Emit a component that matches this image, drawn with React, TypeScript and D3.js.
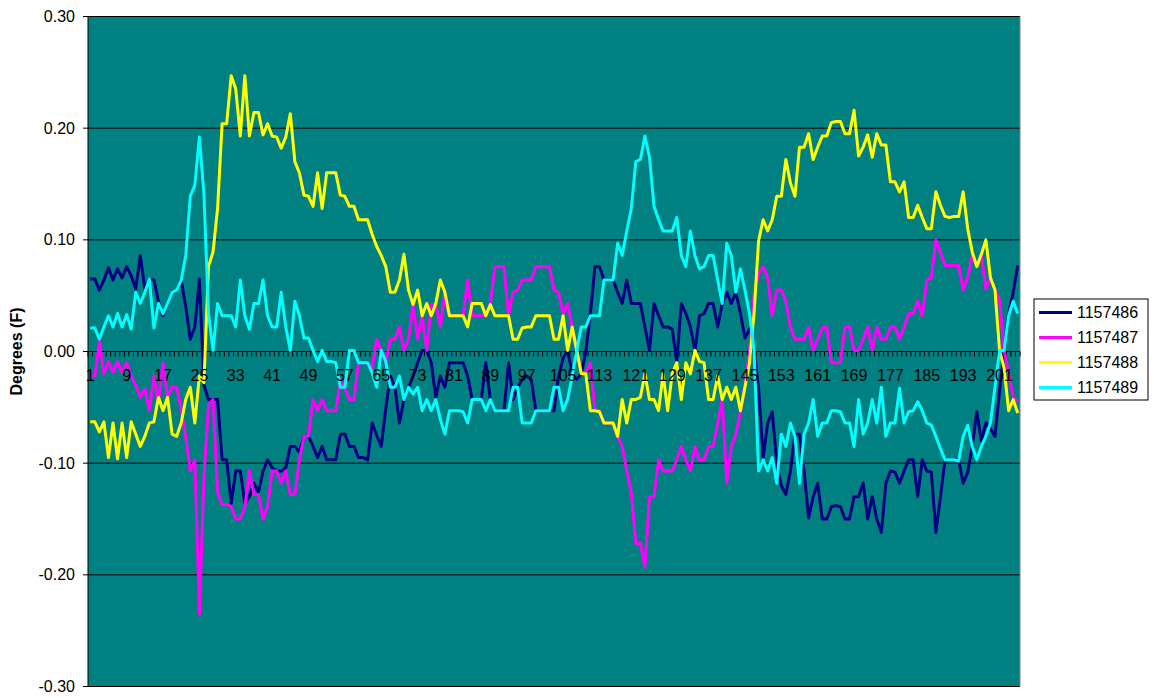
import React from "react";
import * as d3 from "d3";

const categories: number[] = d3.range(1, 206);
const seriesNames = ["1157486", "1157487", "1157488", "1157489"];
const seriesColors = ["#000080", "#FF00FF", "#FFFF00", "#00FFFF"];
const yTicks = [-0.3, -0.2, -0.1, 0, 0.1, 0.2, 0.3];
const xTickLabels: number[] = d3.range(1, 206, 8);

const s1157486 = [
  0.065, 0.065, 0.055, 0.064, 0.075, 0.064, 0.074, 0.066, 0.076, 0.068,
  0.056, 0.086, 0.056, 0.065, 0.064, 0.045, 0.032, 0.043, 0.053, 0.055,
  0.064, 0.04, 0.011, 0.022, 0.065, -0.03, -0.043, -0.043, -0.043, -0.097,
  -0.097, -0.136, -0.107, -0.107, -0.136, -0.13, -0.118, -0.126, -0.107, -0.097,
  -0.104, -0.107, -0.107, -0.104, -0.085, -0.085, -0.09, -0.076, -0.076, -0.085,
  -0.095, -0.085, -0.097, -0.097, -0.097, -0.074, -0.074, -0.085, -0.085, -0.095,
  -0.095, -0.097, -0.064, -0.075, -0.085, -0.051, -0.022, -0.032, -0.064, -0.043,
  -0.032, -0.022, -0.01, 0.001, 0.001, -0.01, -0.041, -0.022, -0.032, -0.01,
  -0.01, -0.01, -0.01, -0.022, -0.043, -0.043, -0.043, -0.01, -0.043, -0.053,
  -0.053, -0.053, -0.01, -0.043, -0.032, -0.025, -0.022, -0.025, -0.053, -0.053,
  -0.053, -0.053, -0.053, -0.022, -0.006, 0.001, -0.02, -0.025, -0.02, 0.0,
  0.034, 0.076, 0.076, 0.064, 0.064, 0.064, 0.053, 0.043, 0.064, 0.043,
  0.043, 0.043, 0.022, 0.001, 0.043, 0.032, 0.022, 0.022, 0.02, -0.009,
  0.043, 0.034, 0.022, 0.001, 0.032, 0.034, 0.043, 0.043, 0.022, 0.043,
  0.053, 0.043, 0.053, 0.034, 0.012, 0.02, 0.001, -0.033, -0.095, -0.064,
  -0.054, -0.1, -0.12, -0.128, -0.107, -0.074, -0.074, -0.107, -0.149, -0.13,
  -0.118, -0.15, -0.15, -0.139, -0.138, -0.139, -0.15, -0.15, -0.13, -0.13,
  -0.118, -0.15, -0.13, -0.15, -0.162, -0.118, -0.107, -0.108, -0.118, -0.107,
  -0.097, -0.097, -0.13, -0.097, -0.107, -0.108, -0.162, -0.13, -0.097, -0.097,
  -0.097, -0.097, -0.118, -0.108, -0.085, -0.054, -0.08, -0.064, -0.069, -0.076,
  -0.035, 0.001, 0.034, 0.053, 0.077,
];

const s1157487 = [
  -0.022, -0.022, 0.009, -0.02, -0.009, -0.019, -0.009, -0.019, -0.01, -0.022,
  -0.03, -0.041, -0.033, -0.053, -0.022, -0.045, -0.01, -0.041, -0.032, -0.032,
  -0.051, -0.077, -0.107, -0.097, -0.235, -0.113, -0.048, -0.043, -0.126, -0.137,
  -0.137, -0.139, -0.15, -0.15, -0.139, -0.107, -0.128, -0.128, -0.15, -0.139,
  -0.107, -0.107, -0.118, -0.107, -0.128, -0.128, -0.097, -0.076, -0.076, -0.043,
  -0.053, -0.043, -0.053, -0.053, -0.053, -0.025, -0.033, -0.043, -0.043, -0.01,
  -0.01, -0.01, -0.015, 0.011, 0.001, -0.01, 0.011, 0.011, 0.022, 0.001,
  0.011, 0.042, 0.011, 0.032, 0.001, 0.042, 0.042, 0.022, 0.053, 0.032,
  0.032, 0.032, 0.032, 0.064, 0.032, 0.032, 0.032, 0.032, 0.043, 0.076,
  0.076, 0.076, 0.032, 0.053, 0.055, 0.064, 0.064, 0.064, 0.076, 0.076,
  0.076, 0.076, 0.055, 0.053, 0.034, 0.043, 0.022, 0.001, -0.019, -0.019,
  -0.01, -0.053, -0.053, -0.064, -0.064, -0.064, -0.076, -0.085, -0.107, -0.126,
  -0.172, -0.172, -0.193, -0.13, -0.13, -0.097, -0.107, -0.107, -0.107, -0.097,
  -0.085, -0.097, -0.107, -0.085, -0.097, -0.097, -0.085, -0.085, -0.064, -0.043,
  -0.118, -0.085, -0.074, -0.054, -0.03, 0.0, 0.05, 0.07, 0.076, 0.066,
  0.032, 0.055, 0.055, 0.045, 0.022, 0.011, 0.011, 0.011, 0.022, 0.001,
  0.011, 0.021, 0.022, -0.01, -0.01, -0.01, 0.022, 0.022, 0.001, 0.001,
  0.011, 0.022, 0.001, 0.022, 0.011, 0.011, 0.022, 0.022, 0.011, 0.022,
  0.034, 0.034, 0.045, 0.032, 0.064, 0.066, 0.1, 0.089, 0.077, 0.077,
  0.077, 0.077, 0.055, 0.066, 0.086, 0.077, 0.086, 0.056, 0.066, 0.056,
  0.046, 0.001, -0.019, -0.041, -0.045,
];

const s1157488 = [
  -0.063, -0.063, -0.072, -0.063, -0.095, -0.064, -0.096, -0.064, -0.095, -0.063,
  -0.074, -0.085, -0.076, -0.064, -0.063, -0.041, -0.053, -0.041, -0.074, -0.076,
  -0.064, -0.043, -0.032, -0.064, -0.022, -0.028, 0.076, 0.089, 0.128, 0.204,
  0.204, 0.247, 0.235, 0.193, 0.247, 0.193, 0.214, 0.214, 0.194, 0.204,
  0.193, 0.192, 0.182, 0.192, 0.213, 0.17, 0.16, 0.14, 0.139, 0.13,
  0.16, 0.128, 0.16, 0.16, 0.16, 0.14, 0.139, 0.13, 0.13, 0.118,
  0.118, 0.118, 0.105, 0.094, 0.086, 0.076, 0.053, 0.053, 0.064, 0.087,
  0.055, 0.042, 0.055, 0.032, 0.043, 0.032, 0.043, 0.064, 0.053, 0.032,
  0.032, 0.032, 0.032, 0.022, 0.043, 0.043, 0.043, 0.032, 0.042, 0.032,
  0.032, 0.032, 0.032, 0.011, 0.011, 0.021, 0.022, 0.022, 0.032, 0.032,
  0.032, 0.032, 0.011, 0.011, 0.032, 0.001, 0.022, 0.001, -0.02, -0.02,
  -0.053, -0.053, -0.054, -0.064, -0.064, -0.064, -0.076, -0.043, -0.064, -0.043,
  -0.043, -0.041, -0.02, -0.043, -0.043, -0.053, -0.02, -0.053, -0.02, -0.01,
  -0.043, -0.01, -0.02, 0.001, -0.009, -0.01, -0.043, -0.043, -0.022, -0.043,
  -0.032, -0.043, -0.032, -0.053, -0.032, -0.01, 0.034, 0.099, 0.118, 0.108,
  0.118, 0.139, 0.139, 0.172, 0.151, 0.139, 0.183, 0.183, 0.195, 0.172,
  0.183, 0.193, 0.193, 0.205, 0.206, 0.206, 0.195, 0.195, 0.216, 0.175,
  0.183, 0.194, 0.174, 0.195, 0.185, 0.185, 0.152, 0.152, 0.143, 0.152,
  0.12, 0.12, 0.131, 0.12, 0.11, 0.11, 0.143, 0.131, 0.121, 0.12,
  0.121, 0.121, 0.143, 0.11, 0.089, 0.076, 0.087, 0.1, 0.066, 0.055,
  0.001, -0.015, -0.053, -0.043, -0.055,
];

const s1157489 = [
  0.021, 0.021, 0.011, 0.022, 0.032, 0.022, 0.034, 0.022, 0.033, 0.02,
  0.053, 0.043, 0.053, 0.065, 0.021, 0.043, 0.034, 0.043, 0.053, 0.055,
  0.064, 0.086, 0.139, 0.149, 0.192, 0.141, 0.034, 0.001, 0.043, 0.032,
  0.032, 0.032, 0.022, 0.064, 0.032, 0.02, 0.043, 0.043, 0.064, 0.032,
  0.022, 0.022, 0.053, 0.022, 0.001, 0.045, 0.032, 0.012, 0.012, 0.001,
  -0.009, 0.001, -0.009, -0.009, -0.01, -0.032, -0.032, 0.001, 0.001, -0.01,
  -0.01, -0.01, -0.019, -0.032, 0.001, -0.009, -0.032, -0.032, -0.022, -0.043,
  -0.032, -0.038, -0.032, -0.053, -0.043, -0.053, -0.043, -0.061, -0.074, -0.053,
  -0.053, -0.053, -0.054, -0.064, -0.043, -0.043, -0.043, -0.053, -0.043, -0.053,
  -0.053, -0.053, -0.053, -0.032, -0.032, -0.064, -0.064, -0.064, -0.053, -0.053,
  -0.053, -0.053, -0.032, -0.032, -0.053, -0.043, -0.022, 0.001, 0.022, 0.022,
  0.032, 0.032, 0.032, 0.064, 0.064, 0.064, 0.097, 0.086, 0.108, 0.128,
  0.17, 0.172, 0.193, 0.174, 0.13, 0.118, 0.108, 0.108, 0.108, 0.12,
  0.086, 0.076, 0.108, 0.086, 0.074, 0.076, 0.086, 0.086, 0.064, 0.043,
  0.097, 0.086, 0.053, 0.074, 0.055, 0.034, 0.001, -0.107, -0.097, -0.107,
  -0.095, -0.118, -0.074, -0.085, -0.064, -0.076, -0.118, -0.074, -0.064, -0.043,
  -0.076, -0.064, -0.064, -0.053, -0.053, -0.054, -0.064, -0.064, -0.085, -0.043,
  -0.074, -0.064, -0.043, -0.064, -0.032, -0.076, -0.064, -0.064, -0.033, -0.064,
  -0.054, -0.053, -0.045, -0.053, -0.064, -0.066, -0.076, -0.087, -0.097, -0.097,
  -0.097, -0.098, -0.076, -0.066, -0.085, -0.097, -0.085, -0.076, -0.064, -0.032,
  0.001, 0.001, 0.032, 0.045, 0.034,
];

const allSeries = [s1157486, s1157487, s1157488, s1157489];

const W = 1154;
const H = 698;
const plot = { left: 88, right: 1020, top: 16.5, bottom: 686.5 };
const FONT = "'Liberation Sans', Arial, sans-serif";

export default function App() {
  const x = d3
    .scaleBand<number>()
    .domain(categories)
    .range([plot.left, plot.right])
    .paddingInner(0)
    .paddingOuter(0);
  const bw = x.bandwidth();
  const cx = (c: number) => (x(c) as number) + bw / 2;
  const y = d3.scaleLinear().domain([-0.3, 0.3]).range([plot.bottom, plot.top]);
  const y0 = y(0);

  const line = d3
    .line<number>()
    .x((_, i) => cx(categories[i]))
    .y((d) => y(d));

  const boundaries = d3.range(0, categories.length + 1).map((i) => plot.left + i * bw);

  const legend = { x: 1034, y: 299, w: 114, h: 101 };
  const rowY = [312.5, 337.5, 362.5, 387.5];

  return (
    <svg
      width={W}
      height={H}
      style={{ position: "absolute", left: 0, top: 0, background: "#ffffff" }}
    >
      <rect x={0} y={0} width={W} height={H} fill="#ffffff" />
      <rect
        x={plot.left}
        y={plot.top}
        width={plot.right - plot.left}
        height={plot.bottom - plot.top}
        fill="#008080"
      />
      {yTicks.map((t) => (
        <line
          key={"g" + t}
          x1={plot.left}
          x2={plot.right}
          y1={y(t)}
          y2={y(t)}
          stroke="#000000"
          strokeWidth={1}
        />
      ))}
      <line x1={plot.right} x2={plot.right} y1={plot.top} y2={plot.bottom} stroke="#808080" strokeWidth={1} />
      <line x1={plot.left} x2={plot.left} y1={plot.top} y2={plot.bottom} stroke="#000000" strokeWidth={1} />
      {yTicks.map((t) => (
        <g key={"yt" + t}>
          <line x1={plot.left - 5} x2={plot.left} y1={y(t)} y2={y(t)} stroke="#000000" strokeWidth={1} />
          <text
            x={75}
            y={y(t)}
            dy="0.35em"
            textAnchor="end"
            fontFamily={FONT}
            fontSize={16}
            fill="#000000"
          >
            {t.toFixed(2)}
          </text>
        </g>
      ))}
      <line x1={plot.left} x2={plot.right} y1={y0} y2={y0} stroke="#000000" strokeWidth={1} />
      {boundaries.map((bx, i) => (
        <line key={"xt" + i} x1={bx} x2={bx} y1={y0} y2={y0 + 5} stroke="#000000" strokeWidth={1} />
      ))}
      {allSeries.map((s, k) => (
        <path
          key={"s" + k}
          d={line(s) || ""}
          fill="none"
          stroke={seriesColors[k]}
          strokeWidth={3}
          strokeLinejoin="round"
        />
      ))}
      {xTickLabels.map((c) => (
        <text
          key={"xl" + c}
          x={cx(c)}
          y={381}
          textAnchor="middle"
          fontFamily={FONT}
          fontSize={16}
          fill="#000000"
        >
          {c}
        </text>
      ))}
      <text
        transform={`translate(22,${y0}) rotate(-90)`}
        textAnchor="middle"
        fontFamily={FONT}
        fontSize={16}
        fontWeight="bold"
        fill="#000000"
      >
        Degrees (F)
      </text>
      <rect
        x={legend.x}
        y={legend.y}
        width={legend.w}
        height={legend.h}
        fill="#ffffff"
        stroke="#000000"
        strokeWidth={1}
      />
      {seriesNames.map((n, k) => (
        <g key={"lg" + k}>
          <line
            x1={legend.x + 5}
            x2={legend.x + 38}
            y1={rowY[k]}
            y2={rowY[k]}
            stroke={seriesColors[k]}
            strokeWidth={3}
          />
          <text
            x={legend.x + 43}
            y={rowY[k]}
            dy="0.35em"
            fontFamily={FONT}
            fontSize={16}
            fill="#000000"
          >
            {n}
          </text>
        </g>
      ))}
    </svg>
  );
}
